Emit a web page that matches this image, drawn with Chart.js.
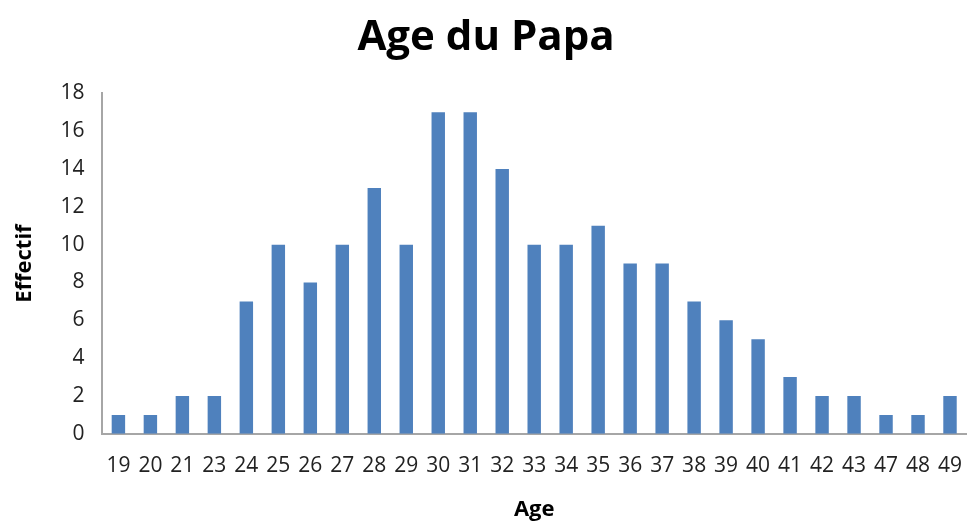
<!DOCTYPE html>
<html>
<head>
<meta charset="utf-8">
<script src="https://cdn.jsdelivr.net/npm/chart.js@4/dist/chart.umd.min.js"></script>
<style>
    html, body { margin: 0; padding: 0; background: #fff; }
    #chart { display: block; }
</style>
</head>
<body>
<canvas id="chart" width="969" height="521"></canvas>
<script>
// Age du Papa - effectifs par âge
const ages = ['19', '20', '21', '23', '24', '25', '26', '27', '28', '29', '30', '31', '32', '33',
    '34', '35', '36', '37', '38', '39', '40', '41', '42', '43', '47', '48', '49'];
const effectifs = [1, 1, 2, 2, 7, 10, 8, 10, 13, 10, 17, 17, 14, 10,
    10, 11, 9, 9, 7, 6, 5, 3, 2, 2, 1, 1, 2];

const font = "'Open Sans', 'DejaVu Sans', sans-serif";

const ctx = document.getElementById('chart');

new Chart(ctx, {
    type: 'bar',
    data: {
        labels: ages,
        datasets: [{
            label: 'Effectif',
            data: effectifs,
            backgroundColor: '#4f81bd',
            borderColor: '#4f81bd',
            borderWidth: 0,
            barPercentage: 0.42,
            categoryPercentage: 1
        }]
    },
    options: {
        responsive: false,
        animation: false,
        layout: { padding: { left: 6, right: 3, top: 0, bottom: 0 } },
        plugins: {
            legend: { display: false },
            tooltip: { enabled: false },
            title: {
                display: true,
                text: 'Age du Papa',
                color: '#000',
                font: { family: font, size: 42, weight: 'bold' },
                padding: { top: 13, bottom: 30 }
            }
        },
        scales: {
            x: {
                grid: { display: false, drawTicks: false },
                border: { color: '#a6a6a6', width: 2 },
                // let the last label overhang instead of shrinking the plot
                afterFit: function (scale) {
                    scale.paddingRight = 0;
                },
                ticks: {
                    color: '#222',
                    font: { family: font, size: 21 },
                    maxRotation: 0,
                    autoSkip: false,
                    padding: 20
                },
                title: {
                    display: true,
                    text: 'Age',
                    color: '#000',
                    font: { family: font, size: 22, weight: 'bold', lineHeight: 1 },
                    padding: { top: 0, bottom: 0 }
                }
            },
            y: {
                min: 0,
                max: 18,
                grid: { display: false, drawTicks: false },
                border: { color: '#a6a6a6', width: 2 },
                ticks: {
                    stepSize: 2,
                    color: '#222',
                    font: { family: font, size: 21 },
                    padding: 18
                },
                title: {
                    display: true,
                    text: 'Effectif',
                    color: '#000',
                    font: { family: font, size: 22, weight: 'bold' },
                    padding: { top: 6, bottom: 4 }
                }
            }
        }
    }
});
</script>
</body>
</html>
